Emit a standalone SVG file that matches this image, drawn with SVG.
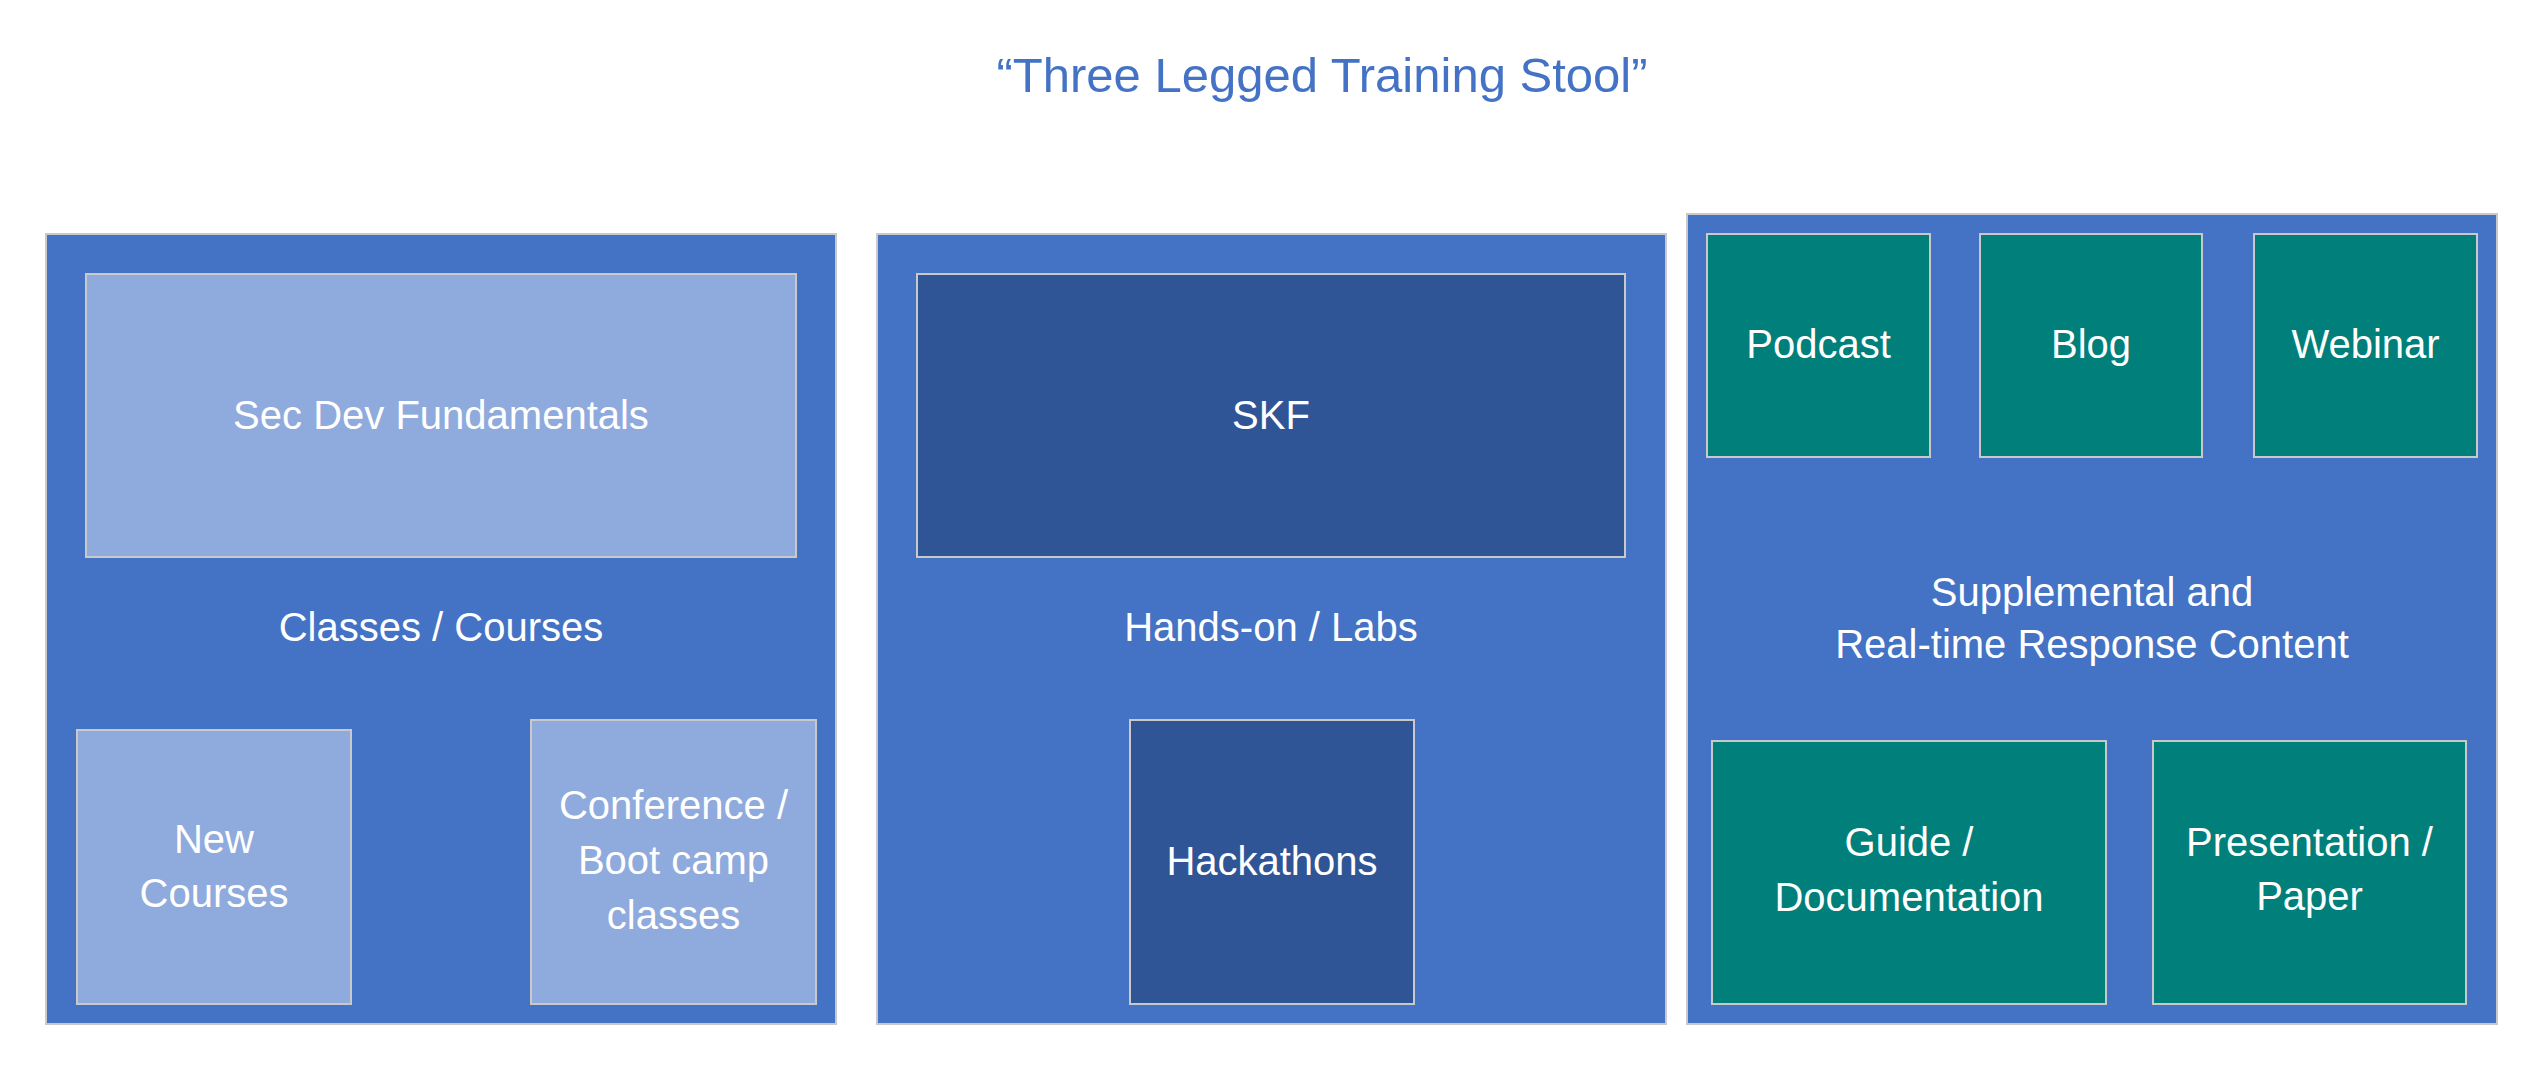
<svg xmlns="http://www.w3.org/2000/svg" width="2546" height="1082" viewBox="0 0 2546 1082">
  <style>
    .outer { fill: #4472C4; stroke: #C9C9C9; stroke-width: 2; }
    .light { fill: #8FAADC; stroke: #C9C9C9; stroke-width: 2; }
    .dark { fill: #2F5597; stroke: #C9C9C9; stroke-width: 2; }
    .teal { fill: #007F7B; stroke: #C9C9C9; stroke-width: 2; }
    .lbl { font-family: "Liberation Sans", Arial, sans-serif; font-size: 40px; fill: #FFFFFF; text-anchor: middle; }
    .title { font-family: "Liberation Sans", Arial, sans-serif; font-size: 49px; fill: #4472C4; text-anchor: middle; }
  </style>
  <rect x="0" y="0" width="2546" height="1082" fill="#FFFFFF"/>
  <text class="title" x="1322" y="92">“Three Legged Training Stool”</text>

  <g id="classes-courses">
    <rect class="outer" x="46" y="234" width="790" height="790"/>
    <text class="lbl" x="441" y="641">Classes / Courses</text>
  </g>
  <g id="sec-dev-fundamentals">
    <rect class="light" x="86" y="274" width="710" height="283"/>
    <text class="lbl" x="441" y="429">Sec Dev Fundamentals</text>
  </g>
  <g id="new-courses">
    <rect class="light" x="77" y="730" width="274" height="274"/>
    <text class="lbl" x="214" y="853">New</text>
    <text class="lbl" x="214" y="907">Courses</text>
  </g>
  <g id="conference-bootcamp">
    <rect class="light" x="531" y="720" width="285" height="284"/>
    <text class="lbl" x="673.5" y="819">Conference /</text>
    <text class="lbl" x="673.5" y="874">Boot camp</text>
    <text class="lbl" x="673.5" y="929">classes</text>
  </g>

  <g id="hands-on-labs">
    <rect class="outer" x="877" y="234" width="789" height="790"/>
    <text class="lbl" x="1271" y="641">Hands-on / Labs</text>
  </g>
  <g id="skf">
    <rect class="dark" x="917" y="274" width="708" height="283"/>
    <text class="lbl" x="1271" y="429">SKF</text>
  </g>
  <g id="hackathons">
    <rect class="dark" x="1130" y="720" width="284" height="284"/>
    <text class="lbl" x="1272" y="875">Hackathons</text>
  </g>

  <g id="supplemental">
    <rect class="outer" x="1687" y="214" width="810" height="810"/>
    <text class="lbl" x="2092" y="606">Supplemental and</text>
    <text class="lbl" x="2092" y="658">Real-time Response Content</text>
  </g>
  <g id="podcast">
    <rect class="teal" x="1707" y="234" width="223" height="223"/>
    <text class="lbl" x="1818.5" y="358">Podcast</text>
  </g>
  <g id="blog">
    <rect class="teal" x="1980" y="234" width="222" height="223"/>
    <text class="lbl" x="2091" y="358">Blog</text>
  </g>
  <g id="webinar">
    <rect class="teal" x="2254" y="234" width="223" height="223"/>
    <text class="lbl" x="2365.5" y="358">Webinar</text>
  </g>
  <g id="guide-documentation">
    <rect class="teal" x="1712" y="741" width="394" height="263"/>
    <text class="lbl" x="1909" y="856">Guide /</text>
    <text class="lbl" x="1909" y="911">Documentation</text>
  </g>
  <g id="presentation-paper">
    <rect class="teal" x="2153" y="741" width="313" height="263"/>
    <text class="lbl" x="2309.5" y="856">Presentation /</text>
    <text class="lbl" x="2309.5" y="910">Paper</text>
  </g>

  <g id="connectors"/>
</svg>
